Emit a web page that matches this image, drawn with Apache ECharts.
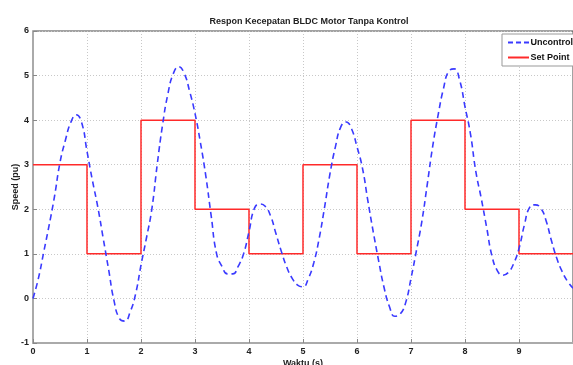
<!DOCTYPE html>
<html>
<head>
<meta charset="utf-8">
<script src="https://cdn.jsdelivr.net/npm/echarts@6/dist/echarts.min.js"></script>
<style>
html,body{margin:0;padding:0;background:#fff;}
#c{width:573px;height:365px;}
</style>
</head>
<body>
<div id="c"></div>
<script>
var titleText = 'Respon Kecepatan BLDC Motor Tanpa Kontrol';
var xName = 'Waktu (s)';
var yName = 'Speed (pu)';
var seriesNames = ['Uncontrol', 'Set Point'];

// time samples (s) for the uncontrolled response
var timeSamples = [
  0.0,0.1,0.2,0.3,0.4,0.5,0.6,0.7,0.8,0.9,
  1.0,1.1,1.2,1.3,1.4,1.5,1.6,1.7,1.8,1.9,
  2.0,2.1,2.2,2.3,2.4,2.5,2.6,2.7,2.8,2.9,
  3.0,3.1,3.2,3.3,3.4,3.5,3.6,3.7,3.8,3.9,
  4.0,4.1,4.2,4.3,4.4,4.5,4.6,4.7,4.8,4.9,
  5.0,5.1,5.2,5.3,5.4,5.5,5.6,5.7,5.8,5.9,
  6.0,6.1,6.2,6.3,6.4,6.5,6.6,6.7,6.8,6.9,
  7.0,7.1,7.2,7.3,7.4,7.5,7.6,7.7,7.8,7.9,
  8.0,8.1,8.2,8.3,8.4,8.5,8.6,8.7,8.8,8.9,
  9.0,9.1,9.2,9.3,9.4,9.5,9.6,9.7,9.8,9.9,
  10.0
];
// uncontrolled speed (pu)
var uncontrolSpeed = [
  0.00,0.45,1.05,1.65,2.30,3.05,3.55,3.95,4.12,3.95,
  3.30,2.65,2.05,1.35,0.65,-0.05,-0.45,-0.51,-0.30,0.10,
  0.75,1.35,2.00,3.00,3.90,4.60,5.05,5.20,5.05,4.65,
  4.15,3.50,2.75,1.85,1.00,0.72,0.55,0.55,0.72,1.00,
  1.50,2.02,2.12,2.07,1.85,1.45,1.05,0.70,0.45,0.30,
  0.26,0.45,0.80,1.35,2.05,2.80,3.40,3.85,3.96,3.80,
  3.40,2.93,2.20,1.50,0.85,0.25,-0.18,-0.40,-0.35,-0.10,
  0.45,1.07,1.72,2.55,3.40,4.10,4.70,5.10,5.15,4.90,
  4.30,3.70,2.85,2.25,1.60,0.95,0.62,0.52,0.58,0.78,
  1.12,1.65,2.05,2.10,2.03,1.75,1.30,0.90,0.60,0.38,
  0.23
];
// set point steps
var stepTimes = [0,1,2,3,4,5,6,7,8,9,10];
var setPoint  = [3,1,4,2,1,3,1,4,2,1,1];

var unc = timeSamples.map(function(t,i){return [t, uncontrolSpeed[i]];});
var sp = stepTimes.map(function(t,i){return [t, setPoint[i]];});

var chart = echarts.init(document.getElementById('c'), null, {renderer:'canvas'});
var font = 'Arial, "Liberation Sans", sans-serif';
var dashIcon = 'path://M0 0h5v2H0z M8 0h5v2H8z M16 0h5v2h-5z';
var solidIcon = 'path://M0 0h21v2H0z';
chart.setOption({
  animation:false,
  backgroundColor:'#fff',
  title:{
    text:titleText, left:304, top:12, textAlign:'center',
    textStyle:{fontFamily:font,fontSize:9,fontWeight:'bold',color:'#222'}
  },
  legend:{
    right:-14, top:34, orient:'vertical',
    backgroundColor:'#fff', borderColor:'#999', borderWidth:1, borderRadius:0,
    padding:[4,14,4,6], itemGap:6, itemWidth:22, itemHeight:2,
    textStyle:{fontFamily:font,fontSize:9,fontWeight:'bold',color:'#111',padding:[0,0,0,-4]},
    data:[{name:seriesNames[0],icon:dashIcon},{name:seriesNames[1],icon:solidIcon}]
  },
  grid:{left:33,right:0,top:31,bottom:22,containLabel:false,outerBoundsMode:'none',show:true,borderColor:'#444',borderWidth:1},
  xAxis:{
    type:'value', min:0, max:10, interval:1,
    name:xName, nameLocation:'middle', nameGap:16, nameMoveOverlap:false,
    nameTextStyle:{fontFamily:font,fontSize:9,fontWeight:'bold',color:'#222',verticalAlign:'top'},
    axisLine:{onZero:false,lineStyle:{color:'#aaa',width:2}},
    axisTick:{inside:true,length:4,lineStyle:{color:'#888'}},
    axisLabel:{fontFamily:font,fontSize:9,fontWeight:'bold',color:'#222',margin:4,
      formatter:function(v){return v===10?'':String(v);}},
    splitLine:{show:true,lineStyle:{color:'#c8c8c8',type:[1,2],width:1}}
  },
  yAxis:{
    type:'value', min:-1, max:6, interval:1,
    name:yName, nameLocation:'middle', nameGap:13, nameRotate:90, nameMoveOverlap:false,
    nameTextStyle:{fontFamily:font,fontSize:9,fontWeight:'bold',color:'#222'},
    axisLine:{onZero:false,lineStyle:{color:'#aaa',width:2}},
    axisTick:{inside:true,length:4,lineStyle:{color:'#888'}},
    axisLabel:{fontFamily:font,fontSize:9,fontWeight:'bold',color:'#222',margin:4},
    splitLine:{show:true,lineStyle:{color:'#c8c8c8',type:[1,2],width:1}}
  },
  series:[
    {name:seriesNames[0], type:'line', data:unc, smooth:0.5, showSymbol:false, symbol:'none',
     lineStyle:{color:'#3a3aff',width:1.6,type:[6,4]}, itemStyle:{color:'#3a3aff'}, z:3},
    {name:seriesNames[1], type:'line', data:sp, step:'end', showSymbol:false, symbol:'none',
     lineStyle:{color:'#ff2a2a',width:1.5}, itemStyle:{color:'#ff2a2a'}, z:2}
  ]
});
</script>
</body>
</html>
